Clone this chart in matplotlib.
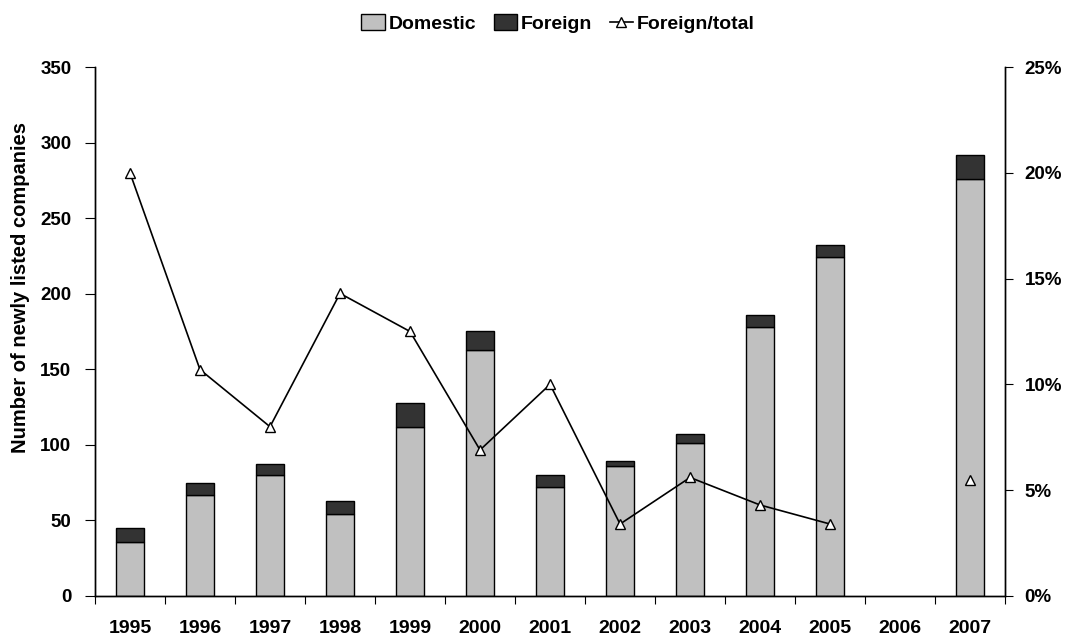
import numpy as np
import matplotlib
matplotlib.use("Agg")
import matplotlib.pyplot as plt
from matplotlib.ticker import FuncFormatter

plt.rcParams['font.family'] = ['Liberation Sans', 'DejaVu Sans']
plt.rcParams['font.weight'] = 'bold'

# Data (2006: no listings shown)
years = ['1995', '1996', '1997', '1998', '1999', '2000', '2001',
         '2002', '2003', '2004', '2005', '2006', '2007']
domestic = [36, 67, 80, 54, 112, 163, 72, 86, 101, 178, 224, np.nan, 276]
foreign = [9, 8, 7, 9, 16, 12, 8, 3, 6, 8, 8, np.nan, 16]
foreign_share = [0.200, 0.107, 0.080, 0.143, 0.125, 0.069, 0.100,
                 0.034, 0.056, 0.043, 0.034, np.nan, 0.055]

x = np.arange(len(years))

fig = plt.figure(figsize=(10.67, 6.37), dpi=100)
ax = fig.add_axes([0.089, 0.0644, 0.853, 0.8304])
ax2 = ax.twinx()

# stacked bars
bw = 0.4
ax.bar(x, domestic, bw, color='#C0C0C0', edgecolor='black', linewidth=1.0,
       label='Domestic', zorder=2)
ax.bar(x, foreign, bw, bottom=domestic, color='#333333', edgecolor='black',
       linewidth=1.0, label='Foreign', zorder=2)

# share line, gap in 2006
ax2.plot(x, foreign_share, color='black', linewidth=1.2, marker='^',
         markersize=7, markerfacecolor='white', markeredgecolor='black',
         markeredgewidth=1.0, label='Foreign/total', zorder=3)

ax.set_xlim(-0.5, len(years) - 0.5)
ax.set_ylim(0, 350)
ax.set_yticks(np.arange(0, 351, 50))
ax2.set_ylim(0, 0.25)
ax2.set_yticks(np.arange(0, 0.251, 0.05))
ax2.yaxis.set_major_formatter(FuncFormatter(lambda v, p: f"{v*100:.0f}%"))

# ticks between categories, labels centred on them
ax.set_xticks(np.arange(-0.5, len(years), 1.0))
ax.set_xticklabels([])
ax.set_xticks(x, minor=True)
ax.set_xticklabels(years, minor=True)
ax.tick_params(axis='x', which='minor', length=0, pad=17, labelsize=14)
ax.tick_params(axis='x', which='major', length=6, direction='out')
ax.tick_params(axis='y', length=7, direction='out', labelsize=13.5, pad=10)
ax2.tick_params(axis='y', length=6, direction='out', labelsize=13.5, pad=8)

for a in (ax, ax2):
    a.spines['top'].set_visible(False)
    for s in ('left', 'right', 'bottom'):
        a.spines[s].set_linewidth(1.0)

ax.set_ylabel('Number of newly listed companies', fontsize=14.5,
              fontweight='bold')
ax.yaxis.set_label_coords(-0.071, 0.584)

h1, l1 = ax.get_legend_handles_labels()
h2, l2 = ax2.get_legend_handles_labels()
fig.legend(h1 + h2, l1 + l2, loc='upper center', bbox_to_anchor=(0.523, 1.005),
           ncol=3, frameon=False, fontsize=14, handlelength=1.2,
           handleheight=0.9, handletextpad=0.2, columnspacing=0.9)

fig.savefig('out.png', dpi=100)
